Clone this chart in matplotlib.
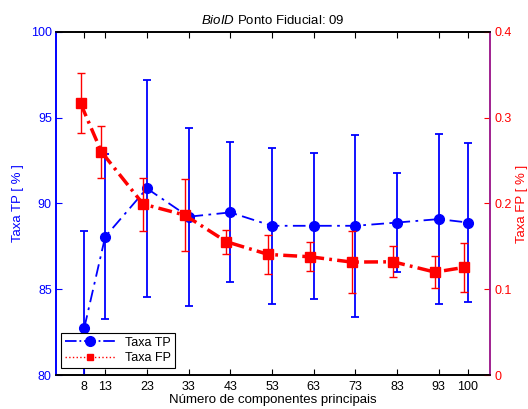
import numpy as np
import matplotlib
matplotlib.use('Agg')
import matplotlib.pyplot as plt
from matplotlib.lines import Line2D

plt.rcParams['font.family'] = ['Liberation Sans', 'DejaVu Sans']
plt.rcParams['mathtext.fontset'] = 'custom'
plt.rcParams['mathtext.it'] = 'Liberation Sans:italic'
plt.rcParams['mathtext.rm'] = 'Liberation Sans'

# Number of principal components
comps = [8, 13, 23, 33, 43, 53, 63, 73, 83, 93, 100]

# True positive rate (%) and its spread
tp_mean = [82.76, 88.06, 90.88, 89.23, 89.48, 88.70, 88.70, 88.70, 88.89, 89.09, 88.89]
tp_err = [5.63, 4.80, 6.33, 5.20, 4.08, 4.55, 4.25, 5.30, 2.90, 4.95, 4.65]

# False positive rate and its spread
fp_mean = [0.3167, 0.2603, 0.1993, 0.1865, 0.1554, 0.1406, 0.1379, 0.1317, 0.1320, 0.1200, 0.1255]
fp_err = [0.035, 0.030, 0.031, 0.042, 0.014, 0.023, 0.017, 0.036, 0.018, 0.019, 0.029]

fp_shift = -0.9  # red series drawn slightly left of the blue one

fig = plt.figure(figsize=(5.28, 4.09), dpi=100)
ax = fig.add_axes([0.106, 0.0831, 0.822, 0.8387])
ax2 = ax.twinx()

# TP series (left axis)
ax.errorbar(comps, tp_mean, yerr=tp_err, color='#0000ff', ls='-.', lw=1.3,
            marker='o', ms=7, elinewidth=1.3, capsize=3, capthick=1.3, zorder=3,
            dashes=(7, 3, 1.5, 3))

# FP series (right axis)
x_fp = np.array(comps) + fp_shift
ax2.errorbar(x_fp, fp_mean, yerr=fp_err, color='#ff0000', ls='-.', lw=2.5,
             marker='s', ms=6.5, elinewidth=1.0, capsize=3, capthick=1.0, zorder=3,
             dashes=(4, 1.5, 0.8, 1.5))

ax.set_xlim(1.2, 105.3)
ax.set_ylim(80, 100)
ax2.set_ylim(0, 0.4)
ax.set_xticks(comps)
ax.set_yticks([80, 85, 90, 95, 100])
ax2.set_yticks([0, 0.1, 0.2, 0.3, 0.4])
ax2.set_yticklabels(['0', '0.1', '0.2', '0.3', '0.4'])

ax.tick_params(axis='x', direction='in', top=True, length=4, labelsize=9, colors='black', pad=4)
ax.tick_params(axis='y', direction='in', length=4, labelsize=9, colors='#0000ff', pad=3)
ax2.tick_params(axis='y', direction='in', length=4, labelsize=9, colors='#ff0000', pad=3)

ax.spines['left'].set_color('#0000ff')
ax2.spines['left'].set_color('#0000ff')
ax2.spines['right'].set_color('#a0208f')
ax.spines['right'].set_color('#a0208f')
for a in (ax, ax2):
    for s in a.spines.values():
        s.set_linewidth(1.2)

ax.set_xlabel('Número de componentes principais', fontsize=9.5, labelpad=1)
ax.set_ylabel('Taxa TP [ % ]', color='#0000ff', fontsize=9.5, labelpad=5)
ax2.set_ylabel('Taxa FP [ % ]', color='#ff0000', fontsize=9.5, labelpad=3)
ax.set_title(r'$\it{BioID}$ Ponto Fiducial: 09', fontsize=9.5, pad=6)

handles = [
    Line2D([], [], color='#0000ff', ls='-.', lw=1.3, marker='o', ms=7),
    Line2D([], [], color='#ff0000', ls=':', lw=1.0, marker='s', ms=5),
]
leg = ax2.legend(handles, ['Taxa TP', 'Taxa FP'], loc='lower left',
                 bbox_to_anchor=(0.012, 0.02), borderaxespad=0, fontsize=9,
                 fancybox=False, framealpha=1, edgecolor='black',
                 handlelength=4.0, borderpad=0.3, labelspacing=0.3)
leg.get_frame().set_linewidth(0.8)

fig.savefig('out.png', dpi=100)
